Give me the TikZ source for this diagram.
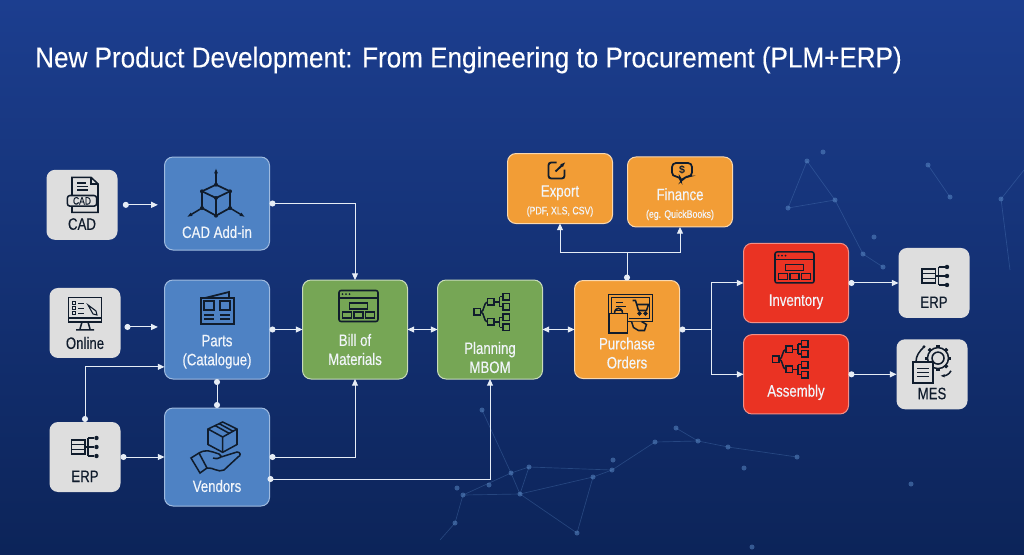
\documentclass[tikz,border=0pt]{standalone}
\usepackage{fontspec}
\usepackage{xcolor}
\usepackage{tikz}
\usetikzlibrary{arrows.meta,positioning,calc}
\setmainfont{Liberation Sans}
\newfontfamily\labelfont[FakeStretch=0.8,FakeBold=0.3]{Liberation Sans}
\newfontfamily\titlefont[FakeStretch=0.905,FakeBold=0.2]{Liberation Sans}
\definecolor{SkyTop}{HTML}{1C3E8F}
\definecolor{SkyMid}{HTML}{0E2C6C}
\definecolor{SkyLow}{HTML}{0C2459}
\definecolor{NetBlue}{HTML}{5F8FCB}
\definecolor{BlockBlue}{HTML}{4E82C4}
\definecolor{BlockGreen}{HTML}{76A655}
\definecolor{BlockOrange}{HTML}{F29D36}
\definecolor{BlockRed}{HTML}{EA3323}
\definecolor{BlockGray}{HTML}{DEDEDE}
\definecolor{IconInk}{HTML}{101C2C}
\definecolor{LinkWhite}{HTML}{E6EDF6}
\newcommand{\iconroom}[1]{\rule{0pt}{#1pt}}
\newcommand{\tinyline}{\fontsize{8.2}{9.5}\selectfont}

\tikzset{
  ico/.style={draw=IconInk, line width=1.15pt},
  windowicon/.pic={
    \draw[ico, rounded corners=1.5] (-19.5,-15.5) rectangle (19.5,15.5);
    \draw[ico] (-19.5,8) -- (19.5,8);
    \foreach \dx in {-16,-12.5,-9} \fill[IconInk] (\dx,11.8) circle (1);
    \draw[ico] (-9,-3) rectangle (9,3);
    \foreach \dx in {-16,-4.5,7} \draw[ico] (\dx,-12) rectangle ++(9,6);
  },
  treeicon/.pic={
    \draw[ico] (-17.3,-3.2) rectangle ++(6.5,6.5);
    \foreach \sgn in {1,-1} {
      \draw[ico] (-4,10*\sgn-3.2) rectangle ++(6.5,6.5);
      \draw[ico] (-10.8,0) .. controls (-7,0) and (-8,10*\sgn) .. (-4,10*\sgn);
      \draw[ico] (2.5,10*\sgn) -- (8,10*\sgn) (8,15.3*\sgn) -- (8,5.3*\sgn);
      \foreach \dy in {15.3,5.3} {
        \draw[ico] (11.5,\dy*\sgn-3.2) rectangle ++(6.5,6.5);
        \draw[ico] (8,\dy*\sgn) -- (11.5,\dy*\sgn);
      }
    }
  },
  erpicon/.pic={
    \draw[ico] (-13.5,-7) rectangle (0,7);
    \draw[ico] (-13.5,2.3) -- (0,2.3) (-13.5,-2.3) -- (0,-2.3);
    \draw[ico] (3,9) -- (3,-9) (3,9) -- (9,9) (0,0) -- (9,0) (3,-9) -- (9,-9);
    \foreach \dy in {9,0,-9} \fill[IconInk] (11.5,\dy) circle (2.2);
  },
  cadicon/.pic={
    \draw[ico] (-10,0) -- (-10,17.5) -- (9,17.5) -- (16,11) -- (16,-17.5) -- (-10,-17.5) -- (-10,-11);
    \draw[ico] (9,17.5) -- (9,11) -- (16,11);
    \draw[ico] (-5,12) -- (4,12) (-5,8.5) -- (6,8.5) (-5,5) -- (6,5);
    \node[ico, fill=BlockGray, rounded corners=2, minimum width=22pt, minimum height=8pt, inner sep=0pt, font=\labelfont\fontsize{8}{8}\selectfont, text=IconInk] (cadtag) at (0,-6) {CAD};
  },
  cubeicon/.pic={
    \draw[ico, line width=1.3pt] (0,8.3) -- (14,1.7) -- (14,-15) -- (0,-22.7) -- (-14,-15) -- (-14,1.7) -- cycle;
    \draw[ico, line width=1.3pt] (-14,1.7) -- (0,-5) -- (14,1.7) (0,-5) -- (0,-22.7);
    \foreach \vx/\vy in {0/8.3,14/1.7,14/-15,0/-22.7,-14/-15,-14/1.7,0/-5} \fill[IconInk] (\vx,\vy) circle (2);
    \draw[ico, -{Latex[length=4pt]}] (0,8.3) -- (0,25);
    \draw[ico, -{Latex[length=4pt]}] (-14,-15) -- (-29,-24);
    \draw[ico, -{Latex[length=4pt]}] (14,-15) -- (29,-24);
  },
  newsicon/.pic={
    \draw[ico, line width=1.5pt] (-16.5,-16) rectangle (16.5,10);
    \draw[ico, line width=1.3pt] (-12,10) -- (12,16) -- (12,10);
    \draw[ico, line width=1.3pt] (-13,-2) rectangle (-3,7) (3,-2) rectangle (13,7);
    \draw[ico] (-13,-7) -- (-3,-7) (-13,-11) -- (-3,-11) (3,-7) -- (13,-7) (3,-11) -- (13,-11);
  },
  monitoricon/.pic={
    \draw[ico] (-16.5,-8) rectangle (16.5,16.3);
    \draw[ico] (-16.5,-4) -- (16.5,-4);
    \draw[ico] (-3,-8) -- (-5,-15) (3,-8) -- (5,-15) (-9,-16) -- (9,-16);
    \foreach \dy in {11,6,1} {
      \draw[ico, line width=.7pt] (-13,\dy-1.5) rectangle ++(3,3);
      \draw[ico, line width=.7pt] (-7,\dy) -- (-1,\dy);
    }
    \draw[ico, line width=.8pt] (3,9) -- (11,3) -- (12,-1) -- (8,0) -- cycle;
  },
  boxhandicon/.pic={
    \draw[ico] (6.7,25) -- (21,18) -- (21,2.5) -- (6.7,-5.3) -- (-8,2.5) -- (-8,18) -- cycle;
    \draw[ico] (-8,18) -- (6.7,10) -- (21,18) (6.7,10) -- (6.7,-5.3);
    \draw[ico] (-1,21.5) -- (13.5,13.5) (3,23.5) -- (17.5,15.5);
    \draw[ico] (-25,-11) -- (-17,-6) -- (-9,-21) -- (-16,-26) -- cycle;
    \draw[ico] (-17,-6) .. controls (-10,-2) and (-6,-4) .. (3,-7) .. controls (7,-9) and (4,-13) .. (-3,-11);
    \draw[ico] (5,-10) -- (21,-5) .. controls (25,-5) and (25,-9) .. (22,-10) -- (8,-23) .. controls (2,-26) and (-3,-20) .. (-9,-21);
  },
  exporticon/.pic={
    \draw[ico, line width=1.4pt, rounded corners=2] (0,8) -- (-8,8) -- (-8,-8) -- (8,-8) -- (8,1);
    \draw[ico, line width=1.4pt, -{Latex[length=4pt]}] (-1,-1) -- (9,8.5);
  },
  financeicon/.pic={
    \draw[ico, line width=1.3pt, rounded corners=3] (-10,9.5) -- (10,9.5) -- (10,-4) -- (3,-4) -- (-1,-9.5) -- (-2,-4) -- (-10,-4) -- cycle;
    \node[inner sep=0pt, text=IconInk, font=\fontsize{8}{8}\selectfont\bfseries] (dollartag) at (0,2.5) {\$};
  },
  carticon/.pic={
    \draw[ico] (-22,-8) rectangle (22,19);
    \draw[ico] (-19,-5) -- (-19,16) -- (19,16) -- (19,-5) -- (-2,-5);
    \draw[ico] (-15,11) -- (-8,11) (-15,7) -- (-5,7) (-15,3) -- (-8,3);
    \draw[ico] (2,13) -- (5,13) -- (8,3) -- (16,3) -- (18,9) -- (5.8,9);
    \draw[ico] (9,0) circle (1.3) (15,0) circle (1.3);
    \draw[ico, fill=BlockOrange] (-21.5,-19.5) rectangle (-3,0);
    \draw[ico] (-16,0) .. controls (-16,7) and (-8,7) .. (-8,0);
    \draw[ico, fill=BlockOrange] (1,-8) -- (3,-14) -- (8,-17) -- (14,-17) -- (16,-11) -- (11,-8);
  },
  mesicon/.pic={
    \foreach \ang in {0,45,...,315} \draw[IconInk, line width=2.4pt] (6,5.7) ++(\ang:10) -- ++(\ang:3);
    \draw[ico] (6,5.7) circle (10.5) (6,5.7) circle (6);
    \draw[ico] (-8,17) .. controls (-13,12) and (-16,8) .. (-16,2);
    \fill[IconInk] (-8,17) circle (1.6);
    \draw[ico, fill=BlockGray] (-19,-19) rectangle (1,2);
    \foreach \dy in {-5,-9,-13} \draw[ico, line width=.8pt] (-15,\dy) -- (-3,\dy);
    \draw[ico, -{Latex[length=3.5pt]}] (19,-7) .. controls (17,-11) and (13,-12) .. (8,-12);
  },
  netline/.style={draw=NetBlue, line width=.5pt, opacity=.3},
  netdot/.style={fill=NetBlue, opacity=.5}
}

\begin{document}
\begin{tikzpicture}[
    x=0.75pt, y=0.75pt,
    block/.style={rounded corners=2.25mm, line width=.75pt, align=center, inner sep=0pt, outer sep=0pt, text=white!92!BlockBlue, font=\labelfont\fontsize{12.4}{14.25}\selectfont},
    bluebox/.style={block, draw=white!45!BlockBlue, fill=BlockBlue, minimum width=78.75pt},
    greenbox/.style={block, draw=white!60!BlockGreen, fill=BlockGreen, minimum width=78.75pt, minimum height=74.25pt},
    orangebox/.style={block, draw=white!60!BlockOrange, fill=BlockOrange, minimum width=78.75pt},
    redbox/.style={block, draw=white!45!BlockRed, fill=BlockRed, minimum width=78.75pt, minimum height=59.5pt},
    graybox/.style={block, draw=none, fill=BlockGray, text=IconInk, minimum width=53.25pt, minimum height=52.5pt},
    link/.style={{Circle[length=4.5pt]}-{Triangle[length=5pt,width=4.5pt]}, draw=LinkWhite, line width=.75pt},
    duallink/.style={{Triangle[length=5pt,width=4.5pt]}-{Triangle[length=5pt,width=4.5pt]}, draw=LinkWhite, line width=.75pt},
    tielink/.style={{Circle[length=4.5pt]}-{Circle[length=4.5pt]}, draw=LinkWhite, line width=.75pt},
    stemlink/.style={{Circle[length=4.5pt]}-, draw=LinkWhite, line width=.75pt},
    forklink/.style={-{Triangle[length=5pt,width=4.5pt]}, draw=LinkWhite, line width=.75pt}
]
% background
\shade[top color=SkyTop, middle color=SkyMid, bottom color=SkyLow] (0,0) rectangle (1024,-554);
\path[use as bounding box] (0,0) rectangle (1024,-554);
\foreach \ax/\ay/\bx/\by in {655/442/612/470,655/442/698/441,698/441/728/447,728/447/797/457,676/428/698/441,612/470/593/477,593/477/520/494,612/470/529/467,529/467/511/473,511/473/463/495,511/473/520/494,520/494/463/495,529/467/520/494,593/477/577/533,577/533/520/494,463/495/455/523,455/523/440/540,482/410/511/473,807/161/835/200,835/200/863/254,863/254/883/267,807/161/788/208,788/208/835/200,1001/199/1024/170,1001/199/1010/270,928/165/950/197}
  \draw[netline] (\ax,-\ay) -- (\bx,-\by);
\foreach \ax/\ay in {676/428,655/442,698/441,728/447,797/457,744/468,612/470,613/460,593/477,529/467,511/473,520/494,463/495,457/488,489/485,455/523,577/533,482/410,911/484,752/547,807/161,835/200,788/208,823/152,863/254,874/237,883/267,928/165,1001/199,950/197}
  \fill[netdot] (\ax,-\ay) circle (2.5);

% title
\node[anchor=west, inner sep=0pt, text=white, font=\titlefont\fontsize{21.6}{24}\selectfont] (headline) at (35,-60) {New Product Development: From Engineering to Procurement (PLM+ERP)};

% blocks
\node[bluebox, minimum height=74.25pt] (parts) at (217,-329.5) {\iconroom{27.75}\\Parts\\(Catalogue)};
\node[bluebox, minimum height=69.75pt, above=22.5pt of parts] (addin) {\iconroom{37.5}\\CAD Add-in};
\node[bluebox, minimum height=73.5pt, below=21.75pt of parts] (vendors) {\iconroom{38.25}\\Vendors};
\node[graybox, left=35.25pt of addin, yshift=-1pt] (cadsrc) {\iconroom{23.25}\\CAD};
\node[graybox, left=33pt of parts, yshift=4.9pt] (online) {\iconroom{24.75}\\Online};
\node[graybox, left=33pt of vendors] (erpsrc) {\iconroom{23.25}\\ERP};
\node[greenbox, right=24.75pt of parts] (bom) {\iconroom{24.75}\\Bill of\\Materials};
\node[greenbox, right=22.5pt of bom] (mbom) {\iconroom{36.75}\\Planning\\MBOM};
\node[orangebox, minimum height=73.5pt, right=24pt of mbom] (orders) {\iconroom{30}\\Purchase\\Orders};
\node[orangebox, minimum height=52.5pt, above=42.75pt of orders, xshift=-50.25pt] (export) {\iconroom{13}\\Export\\[-1pt]{\tinyline (PDF, XLS, CSV)}};
\node[orangebox, minimum height=52.5pt, right=11.25pt of export, yshift=-2.6pt] (finance) {\iconroom{13}\\Finance\\[-1pt]{\tinyline (eg. QuickBooks)}};
\node[redbox, right=48pt of orders, yshift=34.9pt] (inventory) {\iconroom{22.5}\\Inventory};
\node[redbox, below=9pt of inventory] (assembly) {\iconroom{21.75}\\Assembly};
\node[graybox, right=37.5pt of inventory] (erpout) {\iconroom{23.25}\\ERP};
\node[graybox, right=36pt of assembly] (mes) {\iconroom{23.25}\\MES};

% icons
\pic at ([shift={(0,10)}]cadsrc.center) {cadicon};
\pic at ([shift={(-1,10.5)}]addin.center) {cubeicon};
\pic at ([shift={(0,9)}]online.center) {monitoricon};
\pic at ([shift={(0,21.5)}]parts.center) {newsicon};
\pic at ([shift={(0,10)}]erpsrc.center) {erpicon};
\pic at ([shift={(-1,10)}]vendors.center) {boxhandicon};
\pic at ([shift={(3.5,23.5)}]bom.center) {windowicon};
\pic at ([shift={(1.5,17.5)}]mbom.center) {treeicon};
\pic at ([shift={(3.5,16)}]orders.center) {carticon};
\pic at ([shift={(-3.5,18)}]export.center) {exporticon};
\pic at ([shift={(2,19.5)}]finance.center) {financeicon};
\pic at ([shift={(-1.5,15.5)}]inventory.center) {windowicon};
\pic at ([shift={(-6,15)}]assembly.center) {treeicon};
\pic at ([shift={(1.5,7)}]erpout.center) {erpicon};
\pic at ([shift={(0,10.5)}]mes.center) {mesicon};

% connectors on the left
\draw[link, shorten <=4pt, shorten >=5pt] (cadsrc.east) -- (cadsrc.east -| addin.west);
\draw[link, shorten <=3pt, shorten >=5pt] ([yshift=-3pt]online.east) -- ([yshift=-3pt]online.east -| parts.west);
\draw[link] (erpsrc.east) -- (erpsrc.east -| vendors.west);
\draw[link] (erpsrc.north) |- ([yshift=-28pt]parts.west);
\draw[tielink] (parts.south) -- (vendors.north);
\draw[link] (addin.east) -| (bom.north);
\draw[link] (parts.east) -- (parts.east -| bom.west);
\draw[link] (vendors.east) -| (bom.south);
\draw[link] ([shift={(-2,-22)}]vendors.east) -| (mbom.south);

% connectors in the middle
\draw[duallink] (bom.east) -- (mbom.west);
\draw[duallink] (mbom.east) -- (orders.west);
\draw[stemlink] (orders.north) -- ++(0,28) coordinate (ordersup);
\draw[forklink] (ordersup) -| (export.south);
\draw[forklink] (ordersup) -| (finance.south);

% connectors on the right
\draw[stemlink] (orders.east) -- ++(32,0) coordinate (ordersout);
\draw[forklink] (ordersout) |- (inventory.west);
\draw[forklink] (ordersout) |- (assembly.west);
\draw[link] (inventory.east) -- (erpout.west);
\draw[link] (assembly.east) -- (mes.west);
\end{tikzpicture}
\end{document}
